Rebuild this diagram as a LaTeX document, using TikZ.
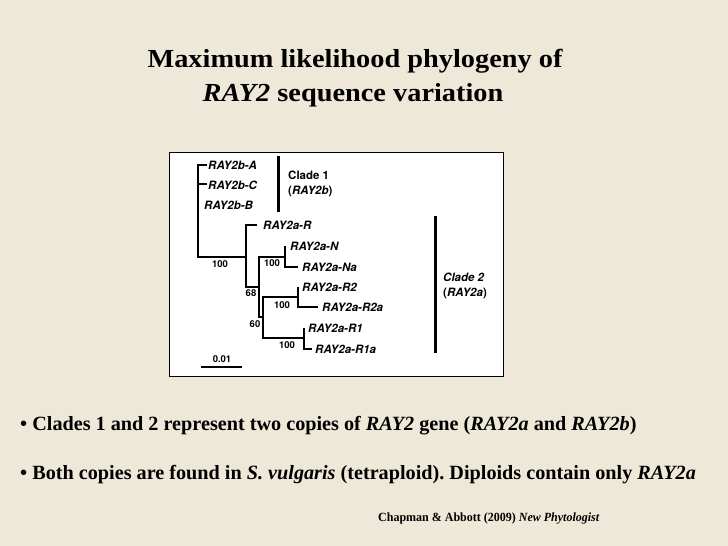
\documentclass[tikz,border=0pt]{standalone}
\usepackage{fontspec}
\setmainfont{Liberation Serif}
\newfontfamily\heros{TeX Gyre Heros}
\newfontfamily\titlefont[FakeStretch=1.09]{Liberation Serif}
\newfontfamily\citefont[FakeStretch=0.96]{Liberation Serif}
\definecolor{slidebg}{RGB}{238,232,217}
\tikzset{
  leaf/.style={anchor=west, inner sep=0pt, font=\heros\bfseries\itshape\fontsize{11.5}{13}\selectfont},
  clade/.style={anchor=west, inner sep=0pt, font=\heros\bfseries\fontsize{11.5}{13}\selectfont},
  boot/.style={inner sep=0pt, font=\heros\bfseries\fontsize{9.5}{11}\selectfont},
  branch/.style={line width=1.9pt},
  cladebar/.style={line width=3pt},
  headline/.style={anchor=base, inner sep=0pt, font=\titlefont\bfseries\fontsize{26}{30}\selectfont},
  bullet/.style={anchor=base west, inner sep=0pt, font=\bfseries\fontsize{20.2}{24}\selectfont},
}
\frenchspacing
\begin{document}
\begin{tikzpicture}[x=1pt,y=-1pt]
\fill[slidebg] (0,0) rectangle (728,546);
\useasboundingbox (0,0) rectangle (728,546);

\node[headline] (title1) at (355,67) {Maximum likelihood phylogeny of};
\node[headline] (title2) at (353,101) {\textit{RAY2} sequence variation};

\draw[fill=white, line width=0.8pt] (169,152) rectangle (503,376);

\coordinate (tA) at (207,165);
\coordinate (tC) at (207,184);
\coordinate (r0) at (198,165);
\coordinate (r1) at (198,257);
\coordinate (j1) at (246,257);
\coordinate (j1t) at (246,225);
\coordinate (j1b) at (246,287);
\coordinate (tR) at (257,225);
\coordinate (j2) at (259,287);
\coordinate (j2t) at (259,257);
\coordinate (j2b) at (259,317);
\coordinate (j3) at (285,257);
\coordinate (tN) at (285,246);
\coordinate (tNa0) at (285,267);
\coordinate (tNa) at (298,267);
\coordinate (j4) at (263,317);
\coordinate (j4t) at (263,297);
\coordinate (j4b) at (263,338);
\coordinate (j5) at (298,297);
\coordinate (j5t) at (298,287);
\coordinate (j5b) at (298,307);
\coordinate (tR2a) at (318,307);
\coordinate (j6) at (304,338);
\coordinate (j6t) at (304,328);
\coordinate (j6b) at (304,349);
\coordinate (tR1a) at (312,349);

\draw[branch] (tA) -- (r0) -- (r1) -- (j1);
\draw[branch] (tC) -- (tC -| r0);
\draw[branch] (tR) -- (j1t) -- (j1b) -- (j2);
\draw[branch] (j3) -- (j2t) -- (j2b) -- (j4);
\draw[branch] (tN) -- (tNa0) -- (tNa);
\draw[branch] (j5) -- (j4t) -- (j4b) -- (j6);
\draw[branch] (j5t) -- (j5b) -- (tR2a);
\draw[branch] (j6t) -- (j6b) -- (tR1a);

\node[leaf] (lA) at (208,165) {RAY2b-A};
\node[leaf] (lC) at (208,185) {RAY2b-C};
\node[leaf] (lB) at (204,205) {RAY2b-B};
\node[leaf] (lR) at (263,225) {RAY2a-R};
\node[leaf] (lN) at (290,246) {RAY2a-N};
\node[leaf] (lNa) at (302,267) {RAY2a-Na};
\node[leaf] (lR2) at (302,287) {RAY2a-R2};
\node[leaf] (lR2a) at (322,307) {RAY2a-R2a};
\node[leaf] (lR1) at (308,328) {RAY2a-R1};
\node[leaf] (lR1a) at (315,349) {RAY2a-R1a};

\node[boot] (b1) at (220,264) {100};
\node[boot] (b2) at (272,263) {100};
\node[boot] (b3) at (251,293) {68};
\node[boot] (b4) at (282,305) {100};
\node[boot] (b5) at (255,324) {60};
\node[boot] (b6) at (287,345) {100};

\coordinate (s0) at (201,367);
\coordinate (s1) at (242,367);
\draw[branch] (s0) -- (s1);
\node[boot] (scale) at (222,359.5) {0.01};

\coordinate (c1t) at (278,156);
\coordinate (c1b) at (278,212);
\draw[cladebar] (c1t) -- (c1b);
\node[clade] (c1a) at (288,175) {Clade 1};
\node[clade] (c1b) at (288,191) {(\textit{RAY2b})};

\coordinate (c2t) at (435,216);
\coordinate (c2b) at (435,353);
\draw[cladebar] (c2t) -- (c2b);
\node[clade] (c2a) at (443,277) {\itshape Clade 2};
\node[clade] (c2b) at (443,293) {(\textit{RAY2a})};

\node[bullet] (p1) at (20,430) {\textbullet\ Clades 1 and 2 represent two copies of \textit{RAY2} gene (\textit{RAY2a} and \textit{RAY2b})};
\node[bullet] (p2) at (20,479) {\textbullet\ Both copies are found in \textit{S. vulgaris} (tetraploid). Diploids contain only \textit{RAY2a}};

\node[anchor=base west, inner sep=0pt, font=\citefont\bfseries\fontsize{12.5}{15}\selectfont] (cite) at (378,521.7) {Chapman \& Abbott (2009) \textit{New Phytologist}};
\end{tikzpicture}
\end{document}
